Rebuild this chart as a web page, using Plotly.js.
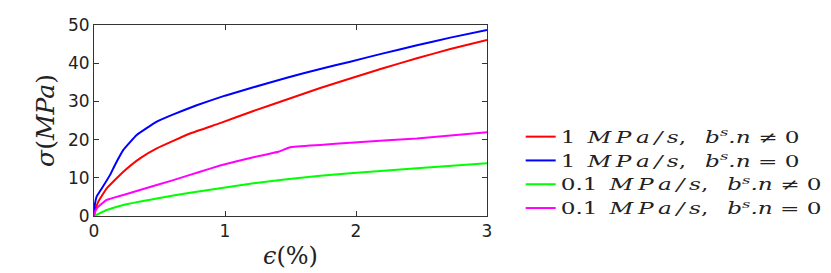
<!DOCTYPE html>
<html><head><meta charset="utf-8">
<script src="https://cdn.plot.ly/plotly-3.0.1.min.js"></script>
<style>body{margin:0;background:#fff}#c{width:831px;height:273px}
.stretch .legend, .stretch .legend *{clip-path:none !important}
.stretch .legendtext{transform-box:fill-box;transform-origin:0 50%;transform:scaleX(1.45)}</style>
</head><body><div id="c"></div>
<script>
const blueX = [0,0.006,0.02,0.059,0.122,0.16,0.224,0.326,0.479,0.606,0.784,1.0,1.217,1.472,1.727,1.956,2.2,2.465,2.72,3.0];
const blueY = [0,2.8,5.06,7.2,10.7,13.35,17.3,21.2,24.7,26.6,29.0,31.5,33.7,36.2,38.5,40.4,42.5,44.7,46.7,48.7];
const redX = [0,0.01,0.033,0.097,0.224,0.351,0.479,0.733,0.963,1.217,1.472,1.727,1.956,2.2,2.465,2.72,3.0];
const redY = [0,1.6,3.75,7.25,11.6,15.1,17.7,21.6,24.3,27.5,30.5,33.5,36.0,38.6,41.3,43.7,46.1];
const magX = [0,0.01,0.033,0.097,0.224,0.351,0.606,0.81,0.963,1.217,1.408,1.497,1.727,1.956,2.465,3.0];
const magY = [0,1.3,2.44,4.2,5.5,6.8,9.4,11.6,13.2,15.4,16.8,18.0,18.6,19.2,20.3,21.9];
const grnX = [0,0.03,0.097,0.224,0.479,0.733,0.963,1.217,1.472,1.727,1.956,2.465,3.0];
const grnY = [0,0.5,1.57,2.9,4.6,6.1,7.25,8.55,9.6,10.55,11.2,12.5,13.8];
const T = '\u2009';
const unit = "<i>M"+T+"P"+T+"a"+T+"/"+T+"s</i>,";
const names = [
 "1"+T+" "+unit+"\u2002 <i>b<sup>s</sup>.n</i> ≠ 0",
 "1"+T+" "+unit+"\u2002 <i>b<sup>s</sup>.n</i> = 0",
 "0.1"+T+" "+unit+"\u2002 <i>b<sup>s</sup>.n</i> ≠ 0",
 "0.1"+T+" "+unit+"\u2002 <i>b<sup>s</sup>.n</i> = 0"
];
const colors = ['#ff0000','#0000ff','#00ff00','#ff00ff'];
const xs=[redX,blueX,grnX,magX], ys=[redY,blueY,grnY,magY];
const traces = xs.map((x,i)=>({x:x,y:ys[i],mode:'lines',name:names[i],line:{color:colors[i],width:2,shape:'spline',smoothing:0.3}}));
const ax = {showgrid:false,zeroline:false,showline:true,linecolor:'#333',linewidth:1,mirror:'ticks',ticks:'inside',ticklen:5,tickcolor:'#333',tickfont:{family:'DejaVu Sans, sans-serif',size:17,color:'#222'}};
const layout = {
 width:831,height:273,margin:{l:94,r:5,t:25,b:57},
 paper_bgcolor:'#fff',plot_bgcolor:'#fff',
 xaxis:Object.assign({},ax,{domain:[0,0.5369],range:[0,3],tickvals:[0,1,2,3],title:{text:'<i>ϵ</i>(%)',font:{family:'DejaVu Serif, serif',size:24,color:'#222'},standoff:6}}),
 yaxis:Object.assign({},ax,{range:[0,50],tickvals:[0,10,20,30,40,50],title:{text:'<i>σ</i>(<i>MPa</i>)',font:{family:'DejaVu Serif, serif',size:25,color:'#222'},standoff:6}}),
 legend:{x:0.5829,y:0.504,xanchor:'left',yanchor:'top',font:{family:'DejaVu Serif, serif',size:16,color:'#222'},tracegroupgap:0,bgcolor:'rgba(0,0,0,0)'},
 showlegend:true
};
Plotly.newPlot('c',traces,layout,{staticPlot:true}).then(()=>{
  document.querySelectorAll('.legend [clip-path], .legend[clip-path]').forEach(e=>e.removeAttribute('clip-path'));
  document.body.classList.add('stretch');
});
</script></body></html>
